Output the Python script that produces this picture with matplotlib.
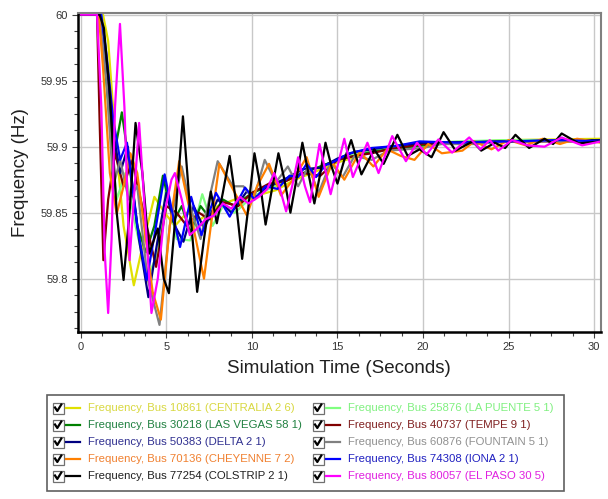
import matplotlib
matplotlib.use("Agg")
import matplotlib.pyplot as plt
from matplotlib.ticker import MultipleLocator, FormatStrFormatter
from matplotlib.patches import Rectangle
from matplotlib.lines import Line2D

plt.rcParams['font.family'] = ['Liberation Sans', 'DejaVu Sans']

labels = [
    "Frequency, Bus 10861 (CENTRALIA 2 6)",
    "Frequency, Bus 25876 (LA PUENTE 5 1)",
    "Frequency, Bus 30218 (LAS VEGAS 58 1)",
    "Frequency, Bus 40737 (TEMPE 9 1)",
    "Frequency, Bus 50383 (DELTA 2 1)",
    "Frequency, Bus 60876 (FOUNTAIN 5 1)",
    "Frequency, Bus 70136 (CHEYENNE 7 2)",
    "Frequency, Bus 74308 (IONA 2 1)",
    "Frequency, Bus 77254 (COLSTRIP 2 1)",
    "Frequency, Bus 80057 (EL PASO 30 5)",
]
colors = ['#e0e000', '#80ff80', '#008000', '#800000', '#000080',
          '#808080', '#ff8000', '#0000ff', '#000000', '#ff00ff']
text_colors = ['#d8d840', '#80f080', '#208040', '#802020', '#303090',
               '#909090', '#f08030', '#2020c0', '#202020', '#e020e0']

# ---- series data (time s, frequency Hz) ----
t_centralia = [0, 1.3, 1.6, 2.0, 2.5, 3.1, 3.7, 4.3, 4.9, 5.5, 6.2, 7.0, 8.0, 9.0, 10, 11.4, 12.5, 13.5, 15, 17, 19, 22, 25, 30.4]
f_centralia = [60, 60, 59.98, 59.91, 59.84, 59.795, 59.83, 59.862, 59.85, 59.84, 59.85, 59.845, 59.855, 59.86, 59.862, 59.867, 59.875, 59.88, 59.888, 59.896, 59.9, 59.903, 59.905, 59.906]

t_lapuente = [0, 1.2, 1.6, 2.1, 2.6, 3.2, 3.9, 4.5, 5.0, 5.6, 6.4, 7.1, 7.7, 8.3, 9.0, 10, 11, 12, 13, 14, 15, 16, 17, 18, 20, 22, 25, 30.4]
f_lapuente = [60, 60, 59.93, 59.86, 59.88, 59.84, 59.80, 59.82, 59.87, 59.83, 59.829, 59.864, 59.84, 59.855, 59.85, 59.862, 59.868, 59.874, 59.88, 59.885, 59.89, 59.894, 59.897, 59.899, 59.902, 59.904, 59.905, 59.905]

t_lasvegas = [0, 1.15, 1.5, 1.9, 2.4, 2.9, 3.3, 3.8, 4.3, 4.8, 5.4, 5.9, 6.4, 7.0, 7.6, 8.3, 9.0, 10, 11, 12, 13, 14, 15, 16, 17, 18, 20, 22, 25, 30.4]
f_lasvegas = [60, 60, 59.95, 59.89, 59.926, 59.88, 59.84, 59.82, 59.84, 59.878, 59.843, 59.855, 59.835, 59.855, 59.845, 59.86, 59.855, 59.865, 59.87, 59.875, 59.88, 59.885, 59.89, 59.893, 59.896, 59.898, 59.901, 59.903, 59.904, 59.905]

t_tempe = [0, 0.95, 1.1, 1.32, 1.6, 2.0, 2.5, 3.0, 3.5, 4.4, 5.0, 5.6, 6.2, 6.9, 7.5, 8.3, 9.2, 10, 11, 12, 13, 14, 15, 16, 17, 18, 20, 25, 30.4]
f_tempe = [60, 60, 59.92, 59.814, 59.86, 59.895, 59.87, 59.89, 59.86, 59.809, 59.855, 59.85, 59.84, 59.85, 59.845, 59.858, 59.855, 59.865, 59.872, 59.874, 59.88, 59.878, 59.89, 59.893, 59.895, 59.898, 59.902, 59.904, 59.904]

t_delta = [0, 1.15, 1.5, 1.9, 2.3, 2.75, 3.4, 3.95, 4.5, 5.0, 5.5, 6.0, 6.6, 7.2, 8.0, 8.8, 9.7, 10.3, 11, 12, 13, 14, 15, 16, 17, 18, 20, 25, 30.4]
f_delta = [60, 60, 59.96, 59.91, 59.88, 59.90, 59.83, 59.786, 59.83, 59.865, 59.84, 59.828, 59.855, 59.838, 59.86, 59.85, 59.866, 59.862, 59.87, 59.876, 59.883, 59.884, 59.891, 59.896, 59.898, 59.9, 59.903, 59.904, 59.905]

t_fountain = [0, 1.1, 1.5, 1.9, 2.3, 2.8, 3.3, 3.9, 4.6, 5.2, 5.9, 6.5, 7.0, 7.5, 8.0, 8.9, 9.5, 10.1, 10.75, 11.4, 12.1, 12.7, 13.3, 13.9, 14.6, 15.3, 16.0, 17.0, 18.0, 19.0, 20.0, 21.0, 23.0, 25.0, 27.0, 30.4]
f_fountain = [60, 60, 59.95, 59.87, 59.89, 59.86, 59.87, 59.80, 59.765, 59.84, 59.885, 59.85, 59.83, 59.86, 59.889, 59.870, 59.87, 59.86, 59.89, 59.873, 59.885, 59.87, 59.885, 59.865, 59.888, 59.877, 59.893, 59.89, 59.897, 59.898, 59.899, 59.902, 59.902, 59.904, 59.904, 59.904]

t_cheyenne = [0, 1.05, 1.3, 1.7, 2.1, 2.5, 2.9, 3.3, 3.8, 4.2, 4.68, 5.2, 5.75, 6.4, 7.2, 7.6, 8.1, 8.8, 9.7, 10.3, 11.0, 11.7, 12.4, 13.2, 13.9, 14.7, 15.4, 16.3, 17.1, 17.9, 18.7, 19.5, 20.3, 21.1, 22.3, 23.0, 24.0, 25.0, 26.0, 27.0, 28.0, 29.0, 30.4]
f_cheyenne = [60, 60, 59.96, 59.88, 59.849, 59.87, 59.895, 59.88, 59.83, 59.79, 59.769, 59.84, 59.889, 59.85, 59.80, 59.84, 59.887, 59.87, 59.848, 59.87, 59.887, 59.863, 59.875, 59.892, 59.862, 59.888, 59.875, 59.896, 59.885, 59.898, 59.893, 59.89, 59.902, 59.895, 59.897, 59.904, 59.898, 59.905, 59.901, 59.906, 59.902, 59.906, 59.903]

t_iona = [0, 1.2, 1.5, 1.9, 2.3, 2.7, 3.3, 3.85, 4.4, 4.9, 5.35, 5.8, 6.45, 7.05, 7.9, 8.7, 9.6, 10.15, 10.8, 11.5, 12.2, 12.7, 13.2, 13.75, 14.3, 14.7, 15.7, 17, 18.4, 19.8, 22, 25, 28, 30.4]
f_iona = [60, 60, 59.97, 59.92, 59.89, 59.903, 59.84, 59.799, 59.84, 59.879, 59.85, 59.824, 59.862, 59.833, 59.865, 59.847, 59.869, 59.860, 59.87, 59.868, 59.878, 59.877, 59.887, 59.877, 59.886, 59.888, 59.895, 59.899, 59.9005, 59.904, 59.903, 59.904, 59.905, 59.904]

t_colstrip = [0, 1.1, 1.35, 1.7, 2.1, 2.5, 2.85, 3.2, 3.6, 4.0, 4.5, 4.85, 5.15, 5.55, 5.97, 6.4, 6.8, 7.2, 7.6, 7.95, 8.3, 8.7, 9.05, 9.43, 9.8, 10.15, 10.5, 10.8, 11.2, 11.55, 11.9, 12.25, 12.6, 12.95, 13.3, 13.65, 14.0, 14.3, 14.65, 15.0, 15.4, 15.8, 16.4, 17.15, 17.7, 18.5, 19.1, 19.8, 20.5, 21.2, 21.9, 22.9, 23.4, 24.2, 24.8, 25.4, 26.2, 27.1, 27.6, 28.1, 29.1, 30.4]
f_colstrip = [60, 60, 59.99, 59.94, 59.85, 59.799, 59.85, 59.918, 59.88, 59.819, 59.838, 59.80, 59.789, 59.85, 59.923, 59.85, 59.79, 59.83, 59.866, 59.842, 59.865, 59.893, 59.86, 59.815, 59.855, 59.895, 59.87, 59.841, 59.87, 59.895, 59.875, 59.850, 59.875, 59.903, 59.88, 59.857, 59.88, 59.903, 59.885, 59.872, 59.89, 59.905, 59.879, 59.898, 59.887, 59.909, 59.893, 59.898, 59.892, 59.911, 59.897, 59.904, 59.897, 59.903, 59.899, 59.909, 59.899, 59.906, 59.902, 59.910, 59.9025, 59.904]

t_elpaso = [0, 0.95, 1.2, 1.4, 1.6, 1.8, 2.0, 2.29, 2.55, 2.85, 3.1, 3.41, 3.75, 4.13, 4.5, 4.9, 5.3, 5.5, 5.9, 6.37, 6.8, 7.3, 7.8, 8.3, 8.8, 9.3, 9.8, 10.4, 10.9, 11.3, 11.6, 12.0, 12.35, 12.7, 13.1, 13.4, 13.95, 14.6, 15.4, 15.9, 16.75, 17.4, 18.2, 19.0, 19.65, 20.2, 20.9, 21.7, 22.7, 23.35, 23.9, 24.4, 25.2, 26.1, 27.1, 28.1, 29.3, 30.4]
f_elpaso = [60, 60, 59.93, 59.82, 59.774, 59.83, 59.93, 59.993, 59.93, 59.814, 59.86, 59.918, 59.85, 59.774, 59.80, 59.85, 59.875, 59.88, 59.86, 59.833, 59.838, 59.845, 59.848, 59.857, 59.853, 59.862, 59.857, 59.862, 59.868, 59.88, 59.87, 59.851, 59.87, 59.892, 59.87, 59.858, 59.902, 59.864, 59.906, 59.877, 59.903, 59.88, 59.908, 59.889, 59.903, 59.894, 59.9055, 59.8955, 59.907, 59.898, 59.905, 59.897, 59.905, 59.901, 59.900, 59.907, 59.901, 59.904]

series_t = [t_centralia, t_lapuente, t_lasvegas, t_tempe, t_delta,
            t_fountain, t_cheyenne, t_iona, t_colstrip, t_elpaso]
series_f = [f_centralia, f_lapuente, f_lasvegas, f_tempe, f_delta,
            f_fountain, f_cheyenne, f_iona, f_colstrip, f_elpaso]

x_ticks = [0, 5, 10, 15, 20, 25, 30]
y_ticks = [59.8, 59.85, 59.9, 59.95, 60]

W, H = 608, 499
fig = plt.figure(figsize=(W / 100, H / 100), dpi=100)
ax = fig.add_axes([77.7 / W, 1 - 332 / H, (601 - 77.7) / W, (332 - 12.7) / H])

for t, f, c in zip(series_t, series_f, colors):
    ax.plot(t, f, color=c, lw=1.6, solid_joinstyle='round', solid_capstyle='round')

ax.set_xlim(-0.18, 30.4)
ax.set_ylim(59.7596, 60.0015)
ax.set_xticks(x_ticks)
ax.set_yticks(y_ticks)
ax.xaxis.set_minor_locator(MultipleLocator(1.25))
ax.yaxis.set_minor_locator(MultipleLocator(0.0125))
ax.yaxis.set_major_formatter(FormatStrFormatter('%g'))
ax.grid(True, which='major', color='#c8c8c8', lw=1.0)
ax.set_axisbelow(True)
ax.tick_params(which='major', length=4, width=0.8, color='#404040', labelsize=8, labelcolor='#333333', pad=3)
ax.tick_params(which='minor', length=3, width=0.8, color='#404040')
for s in ['left', 'bottom']:
    ax.spines[s].set_color('#000000')
    ax.spines[s].set_linewidth(1.8)
for s in ['top', 'right']:
    ax.spines[s].set_color('#808080')
    ax.spines[s].set_linewidth(1.5)

ax.set_xlabel('Simulation Time (Seconds)', fontsize=13.5, color='#202020', labelpad=6)
ax.set_ylabel('Frequency (Hz)', fontsize=13.5, color='#202020', labelpad=8)

# ---- legend drawn in pixel space ----
lax = fig.add_axes([0, 0, 1, 1])
lax.set_xlim(0, W)
lax.set_ylim(H, 0)
lax.axis('off')
lax.add_patch(Rectangle((46.5, 395), 517, 96, fill=False, ec='#606060', lw=1.2))
row_y = [408, 425, 442, 459, 476]
col_x = [52.5, 312.5]
for i, (lab, c, tc) in enumerate(zip(labels, colors, text_colors)):
    col = i % 2
    row = i // 2
    x0 = col_x[col]
    y0 = row_y[row]
    lax.add_patch(Rectangle((x0, y0 - 5.5), 11, 11, fill=True, fc='white', ec='#707070', lw=0.9))
    lax.add_line(Line2D([x0 + 2.5, x0 + 4.8, x0 + 8.8], [y0 - 0.5, y0 + 3, y0 - 3.5], color='black', lw=1.6))
    lax.add_line(Line2D([x0 + 13, x0 + 27], [y0, y0], color=c, lw=1.6))
    lax.text(x0 + 35, y0, lab, color=tc, fontsize=8.2, va='center', ha='left')

fig.savefig('out.png', dpi=100)
